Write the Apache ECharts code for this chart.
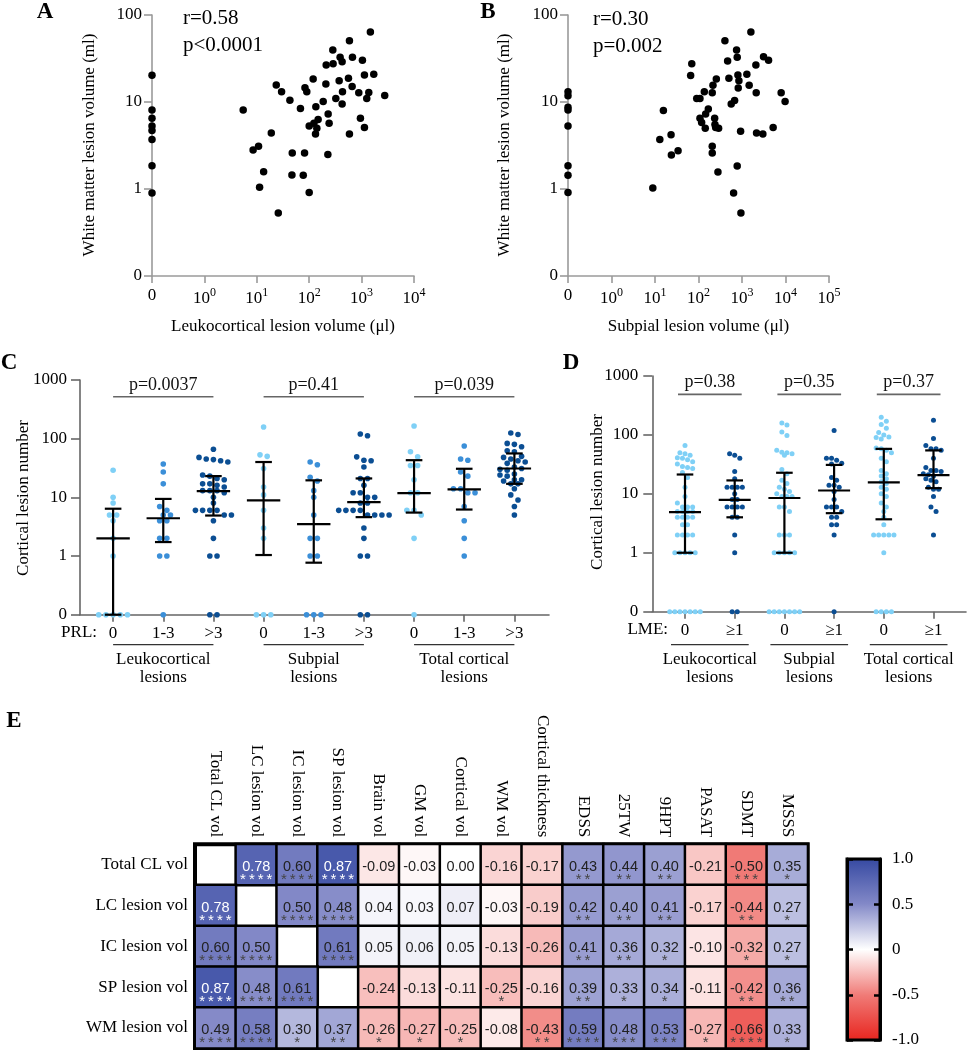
<!DOCTYPE html>
<html><head><meta charset="utf-8">
<script src="https://cdn.jsdelivr.net/npm/echarts@6/dist/echarts.min.js"></script>
<style>html,body{margin:0;padding:0;background:#fff}#c{width:967px;height:1050px}</style>
</head><body><div id="c"></div>
<script>
// ---------------- Panel A: leukocortical vs white matter lesion volume
const aLeukocortical = [0,0,0,0,0,0,0,0, 5.5,8.5,10.8,13.5,11.3,18.9,23.5,29.7,25.7,42.8, 47.5,46.8,68,81.5,77,83,90,100,100,119, 123,134,132,140,148,185,208,211,230,240, 227,282,286,322,373,389,425,432,425,586, 561,586,669,659,883,950,1037,1133,1133,1254, 1371,1472,1706,2762];
const aWhiteMatter  = [20.3,8.1,6.5,5.3,4.7,3.7,1.85,0.9, 8.1,2.8,3.1,1.58,1.05,4.4,15.7,13.1,0.53,10.5, 2.6,1.45,8.4,2.6,1.44,14.6,13.1,0.91,5.3,18.4, 5.7,8.8,4.3,5.0,6.3,10.1,16.1,26.6,7.3,5.7, 2.5,39.6,27.6,11.0,17.6,32.6,29,13.1,9.5,50.7, 18.7,4.3,32.6,15.1,12.8,6.5,30.1,20.4,5.1,11.0, 12.9,63.8,20.8,11.9];
const aStats = ['r=0.58', 'p<0.0001'];
// ---------------- Panel B: subpial vs white matter lesion volume
const bSubpial     = [0,0,0,0,0,0,0,0, 8.9,12.9,15.6,23.4,23.8,33.9,66,70,91,108, 108,118,136,143,146,168,207,207,207,215, 257,235,239,248,290,280,405,467,500,565, 641,676,750,776,776,805,849,819,929,944, 1294,1462,1600,2084,2120,2158,3015,3126,4074,5200, 7940,9790];
const bWhiteMatter = [13.1,11.8,8.7,8.1,5.3,1.85,1.44,0.91, 1.03,3.7,8.0,4.2,2.46,2.76,20.1,27.6,11.0,11.0, 6.5,5.8,13.1,5.0,7.3,8.3,3.1,2.6,12.8,15.6, 18.4,6.5,5.5,5.1,5.0,1.57,50.7,29.6,18.7,9.5, 0.9,10.4,39.6,32.6,1.84,20.4,17.6,14.5,4.6,0.53, 20.8,15.6,63.8,26.6,12.8,4.4,4.3,33.1,30.1,5.1, 12.8,10.1];
const bStats = ['r=0.30', 'p=0.002'];
// ---------------- Panel C: cortical lesion number by PRL group
const cCategories = ['0','1-3','>3','0','1-3','>3','0','1-3','>3'];
const cLC_PRL0  = [29,10,8,5,5,4,2,1,0,0,0,0,0];
const cLC_PRL13 = [37,27,17,7,6,5,5,4,4,2,2,1,1,0];
const cLC_PRL3  = [66,48,45,44,42,40,24,23,21,20,17,17,16,15,13,13,13,12,10,8,6,6,6,6,5,5,4,2,1,1,0,0];
const cSP_PRL0  = [158,53,50,31,15,11,6,3,2,0,0,0];
const cSP_PRL13 = [40,36,22,19,13,10,5,2,2,1,1,0,0,0];
const cSP_PRL3  = [120,112,49,43,42,33,21,21,16,12,12,10,10,8,8,6,6,6,6,5,5,5,5,3,2,1,1,0,0];
const cTot_PRL0  = [164,60,49,35,35,20,12,12,6,6,5,2,0];
const cTot_PRL13 = [75,45,43,27,23,14,14,12,12,7,4,2,1];
const cTot_PRL3  = [125,118,83,80,73,62,60,50,48,45,42,40,38,33,31,30,29,25,24,23,20,20,19,17,17,14,11,9,7,5];
const cMedian = [2, 4.4, 12.8, 8.9, 3.5, 8.3, 11.8, 13.7, 31];
const cLow    = [0, 1.73, 4.9, 1.04, 0.77, 4.6, 5.5, 6.2, 17];
const cHigh   = [6.4, 9.4, 23, 40, 19.5, 21, 43, 30.7, 56];
const cPvalues = ['p=0.0037', 'p=0.41', 'p=0.039'];
const cGroupNames = ['Leukocortical\nlesions', 'Subpial\nlesions', 'Total cortical\nlesions'];
const cGroupSpans = [[0,2],[3,5],[6,8]];
// ---------------- Panel D: cortical lesion number by LME group
const dCategories = ['0','\u22651','0','\u22651','0','\u22651'];
const dLC_0  = [66,50,48,45,41,40,38,35,32,29,28,27,23,19,13,9,7,6,6,6,5,5,5,5,4,4,4,4,3,3,2,2,2,2,1,1,1,1,1,0,0,0,0,0,0,0];
const dLC_1  = [48,45,40,24,18,13,13,13,13,10,8,8,6,6,6,6,4,4,2,1,0,0];
const dSP_0  = [160,148,112,98,55,51,50,48,45,26,22,17,15,13,12,11,10,9,9,9,6,6,5,2,2,2,1,1,1,1,1,0,0,0,0,0,0,0];
const dSP_1  = [119,40,40,37,33,32,19,17,14,14,13,11,8,6,6,6,5,4,4,3,3,2,0];
const dTot_0 = [200,170,150,130,110,100,92,90,85,60,58,55,50,40,35,25,22,20,18,16,15,13,12,10,9,7,6,5,4,3,2,2,2,2,2,1,0,0,0,0];
const dTot_1 = [177,87,66,58,58,55,40,28,25,25,24,22,21,20,18,17,16,13,12,12,9,6,5,2];
const dMedian = [4.9, 7.9, 8.5, 11.4, 15.6, 20.8];
const dLow    = [1, 4.0, 1, 4.7, 3.7, 12.5];
const dHigh   = [21.3, 16.9, 22.8, 31, 58, 54.6];
const dPvalues = ['p=0.38', 'p=0.35', 'p=0.37'];
const dGroupNames = ['Leukocortical\nlesions', 'Subpial\nlesions', 'Total cortical\nlesions'];
const dGroupSpans = [[0,1],[2,3],[4,5]];
// ---------------- Panel E: correlation heatmap
const eRows = ['Total CL vol','LC lesion vol','IC lesion vol','SP lesion vol','WM lesion vol'];
const eCols = ['Total CL vol','LC lesion vol','IC lesion vol','SP lesion vol','Brain vol','GM vol','Cortical vol','WM vol','Cortical thickness','EDSS','25TW','9HPT','PASAT','SDMT','MSSS'];
const eTotalCL = [null,0.78,0.60,0.87,-0.09,-0.03,0.00,-0.16,-0.17,0.43,0.44,0.40,-0.21,-0.50,0.35];
const eLC      = [0.78,null,0.50,0.48,0.04,0.03,0.07,-0.03,-0.19,0.42,0.40,0.41,-0.17,-0.44,0.27];
const eIC      = [0.60,0.50,null,0.61,0.05,0.06,0.05,-0.13,-0.26,0.41,0.36,0.32,-0.10,-0.32,0.27];
const eSP      = [0.87,0.48,0.61,null,-0.24,-0.13,-0.11,-0.25,-0.16,0.39,0.33,0.34,-0.11,-0.42,0.36];
const eWM      = [0.49,0.58,0.30,0.37,-0.26,-0.27,-0.25,-0.08,-0.43,0.59,0.48,0.53,-0.27,-0.66,0.33];
const sTotalCL = ['','****','****','****','','','','','','**','**','**','','***','*'];
const sLC      = ['****','','****','****','','','','','','**','**','**','','**','*'];
const sIC      = ['****','****','','****','','','','','','**','**','*','','*','*'];
const sSP      = ['****','****','****','','','','','*','','**','*','*','','**','**'];
const sWM      = ['****','****','*','**','*','*','*','','**','****','***','***','*','****','*'];
const colorbarTicks = [-1, -0.5, 0, 0.5, 1];

// ---------------- styling
const SERIF = '"Liberation Serif","Times New Roman",serif';
const SANS = '"Liberation Sans",Arial,sans-serif';
const LIGHT = '#7fd0f6', MID = '#3b8fd8', DARK = '#0b4e93';
const heatColors = ['#e8231d', '#f07a76', '#ffffff', '#8288c7', '#3448a1'];
const lg = v => v > 0 ? Math.log10(v) : -1;
const supLabel = v => v === -1 ? '{b|0}' : '{b|10}{s|' + v + '}';
const plainLog = v => v === -1 ? '0' : String(Math.round(Math.pow(10, v)));

const chart = echarts.init(document.getElementById('c'), null, {renderer: 'canvas', width: 967, height: 1050});

const grids = [
  {left: 152, top: 15, width: 262, height: 261},
  {left: 568, top: 15, width: 261, height: 261},
  {left: 80, top: 380, width: 469, height: 234.7},
  {left: 652.3, top: 376, width: 313.7, height: 235.7},
  {left: 195, top: 844.3, width: 612.7, height: 204, show: true, borderColor: '#000', borderWidth: 4, backgroundColor: '#fff'},
  {left: 847, top: 859, width: 33, height: 181}
].map(g => Object.assign({containLabel: false, outerBoundsMode: 'none'}, g));

function line(color, w) { return {show: true, onZero: false, lineStyle: {color: color, width: w}}; }
function tick(color, w, len) { return {show: true, length: len, lineStyle: {color: color, width: w}}; }
const supRich = {b: {fontFamily: SERIF, fontSize: 17, color: '#000'}, s: {fontFamily: SERIF, fontSize: 12, color: '#000', padding: [0, 0, 11, 0]}};
const lblFont = {fontFamily: SERIF, fontSize: 17, color: '#000'};

const xAxes = [
  {gridIndex: 0, type: 'value', min: -1, max: 4, interval: 1, axisLine: line('#9a9a9a', 1.6), axisTick: tick('#9a9a9a', 1.6, 7), splitLine: {show: false}, axisLabel: {margin: 11, formatter: supLabel, rich: supRich}},
  {gridIndex: 1, type: 'value', min: -1, max: 5, interval: 1, axisLine: line('#9a9a9a', 1.6), axisTick: tick('#9a9a9a', 1.6, 7), splitLine: {show: false}, axisLabel: {margin: 11, formatter: supLabel, rich: supRich}},
  {gridIndex: 2, type: 'value', min: -0.66, max: 8.69, axisLine: line('#666', 1.6), axisTick: Object.assign(tick('#666', 1.6, 7), {customValues: cCategories.map((c, i) => i)}), splitLine: {show: false}, axisLabel: Object.assign({margin: 10, customValues: cCategories.map((c, i) => i), formatter: v => cCategories[Math.round(v)]}, lblFont)},
  {gridIndex: 3, type: 'value', min: -0.658, max: 5.654, axisLine: line('#666', 1.6), axisTick: Object.assign(tick('#666', 1.6, 7), {customValues: dCategories.map((c, i) => i)}), splitLine: {show: false}, axisLabel: Object.assign({margin: 10, customValues: dCategories.map((c, i) => i), formatter: v => dCategories[Math.round(v)]}, lblFont)},
  {gridIndex: 4, type: 'category', data: eCols, position: 'top', axisLine: {show: false}, axisTick: {show: false}, splitLine: {show: false}, axisLabel: Object.assign({interval: 0, rotate: 90, margin: 7}, lblFont)},
  {gridIndex: 5, type: 'value', min: 0, max: 1, show: false}
];
const yAxes = [
  {gridIndex: 0, type: 'value', min: -1, max: 2, interval: 1, axisLine: line('#9a9a9a', 1.6), axisTick: tick('#9a9a9a', 1.6, 8), splitLine: {show: false}, axisLabel: Object.assign({margin: 10, formatter: plainLog}, lblFont)},
  {gridIndex: 1, type: 'value', min: -1, max: 2, interval: 1, axisLine: line('#9a9a9a', 1.6), axisTick: tick('#9a9a9a', 1.6, 8), splitLine: {show: false}, axisLabel: Object.assign({margin: 10, formatter: plainLog}, lblFont)},
  {gridIndex: 2, type: 'value', min: -1, max: 3, interval: 1, axisLine: line('#666', 1.6), axisTick: tick('#666', 1.6, 9), splitLine: {show: false}, axisLabel: Object.assign({margin: 13, formatter: plainLog}, lblFont)},
  {gridIndex: 3, type: 'value', min: -1, max: 3, interval: 1, axisLine: line('#666', 1.6), axisTick: tick('#666', 1.6, 9), splitLine: {show: false}, axisLabel: Object.assign({margin: 14, formatter: plainLog}, lblFont)},
  {gridIndex: 4, type: 'category', data: eRows, inverse: true, axisLine: {show: false}, axisTick: {show: false}, splitLine: {show: false}, axisLabel: Object.assign({interval: 0, margin: 7}, lblFont)},
  {gridIndex: 5, type: 'value', min: -1, max: 1, interval: 0.5, position: 'left', z: 10, axisLine: line('#000', 3), axisTick: {show: true, inside: true, length: 6, lineStyle: {color: '#000', width: 2.5}}, axisLabel: {show: false}, splitLine: {show: false}},
  {gridIndex: 5, type: 'value', min: -1, max: 1, interval: 0.5, position: 'right', z: 10, axisLine: line('#000', 3), axisTick: {show: true, inside: true, length: 6, lineStyle: {color: '#000', width: 2.5}}, splitLine: {show: false},
    axisLabel: Object.assign({margin: 12, formatter: v => (v === 0 ? '0' : v.toFixed(1))}, lblFont)}
];

// first pass: axes only, so the swarm layout can use the library's own pixel conversion
chart.setOption({animation: false, grid: grids, xAxis: xAxes, yAxis: yAxes, series: []});

function swarm(values, center, gridIndex, dia, spacing) {
  const toPx = p => chart.convertToPixel({gridIndex: gridIndex}, p);
  const x0 = toPx([center, 0])[0];
  const ppu = toPx([center + 1, 0])[0] - x0;
  const pts = values.map(v => ({ly: lg(v)})).sort((a, b) => b.ly - a.ly);
  pts.forEach(p => { p.py = toPx([center, p.ly])[1]; });
  const rows = [];
  let cur = null;
  pts.forEach(p => {
    if (!cur || p.py - cur.y0 >= dia) { cur = {y0: p.py, pts: []}; rows.push(cur); }
    cur.pts.push(p);
  });
  const placed = [];
  rows.forEach(row => {
    const n = row.pts.length;
    const offs = s => row.pts.map((p, i) => (i - (n - 1) / 2) * spacing + s);
    const ok = s => offs(s).every((x, i) => placed.every(q => Math.hypot(q.px - x, q.py - row.pts[i].py) >= dia * 0.92));
    const cands = [0, spacing / 2, -spacing / 2, spacing, -spacing];
    const s = cands.find(ok);
    const o = offs(s === undefined ? 0 : s);
    row.pts.forEach((p, i) => { p.px = o[i]; placed.push(p); });
  });
  return pts.map(p => [center + p.px / ppu, p.ly]);
}

const cGroups = [cLC_PRL0, cLC_PRL13, cLC_PRL3, cSP_PRL0, cSP_PRL13, cSP_PRL3, cTot_PRL0, cTot_PRL13, cTot_PRL3];
const cColors = [LIGHT, MID, DARK, LIGHT, MID, DARK, LIGHT, MID, DARK];
const dGroups = [dLC_0, dLC_1, dSP_0, dSP_1, dTot_0, dTot_1];
const dColors = [LIGHT, DARK, LIGHT, DARK, LIGHT, DARK];

const series = [];
series.push({type: 'scatter', xAxisIndex: 0, yAxisIndex: 0, symbolSize: 7.5, itemStyle: {color: '#000', opacity: 1}, silent: true,
  data: aLeukocortical.map((x, i) => [lg(x), lg(aWhiteMatter[i])])});
series.push({type: 'scatter', xAxisIndex: 1, yAxisIndex: 1, symbolSize: 7.5, itemStyle: {color: '#000', opacity: 1}, silent: true,
  data: bSubpial.map((x, i) => [lg(x), lg(bWhiteMatter[i])])});

cGroups.forEach((g, i) => series.push({type: 'scatter', xAxisIndex: 2, yAxisIndex: 2, symbolSize: 5.6, silent: true,
  itemStyle: {color: cColors[i], opacity: 1}, data: swarm(g, i, 2, 5.6, 7.2)}));
dGroups.forEach((g, i) => series.push({type: 'scatter', xAxisIndex: 3, yAxisIndex: 3, symbolSize: 5, silent: true,
  itemStyle: {color: dColors[i], opacity: 1}, data: swarm(g, i, 3, 5, 5.1)}));

function errRender(capHalf, medHalf) {
  return function (params, api) {
    const i = api.value(0);
    const m = api.coord([i, api.value(1)]);
    const lo = api.coord([i, api.value(2)]);
    const hi = api.coord([i, api.value(3)]);
    const st = {stroke: '#000', lineWidth: 2.2};
    return {type: 'group', children: [
      {type: 'line', shape: {x1: m[0], y1: lo[1], x2: m[0], y2: hi[1]}, style: st},
      {type: 'line', shape: {x1: m[0] - capHalf, y1: lo[1], x2: m[0] + capHalf, y2: lo[1]}, style: st},
      {type: 'line', shape: {x1: m[0] - capHalf, y1: hi[1], x2: m[0] + capHalf, y2: hi[1]}, style: st},
      {type: 'line', shape: {x1: m[0] - medHalf, y1: m[1], x2: m[0] + medHalf, y2: m[1]}, style: st}
    ]};
  };
}
series.push({type: 'custom', xAxisIndex: 2, yAxisIndex: 2, z: 5, silent: true, renderItem: errRender(8.3, 16.7),
  data: cMedian.map((m, i) => [i, lg(m), lg(cLow[i]), lg(cHigh[i])])});
series.push({type: 'custom', xAxisIndex: 3, yAxisIndex: 3, z: 5, silent: true, renderItem: errRender(8.3, 16),
  data: dMedian.map((m, i) => [i, lg(m), lg(dLow[i]), lg(dHigh[i])])});

function bracketRender(texts, level, ext) {
  return function (params, api) {
    const a = api.coord([api.value(0), level]), b = api.coord([api.value(1), level]);
    return {type: 'group', children: [
      {type: 'line', shape: {x1: a[0] - ext, y1: a[1], x2: b[0] + ext, y2: a[1]}, style: {stroke: '#666', lineWidth: 1.6}},
      {type: 'text', x: (a[0] + b[0]) / 2, y: a[1] - 12, style: {text: texts[params.dataIndex], fill: '#111', font: '18px ' + SERIF,
        align: 'center', verticalAlign: 'middle', textAlign: 'center', textVerticalAlign: 'middle'}}
    ]};
  };
}
series.push({type: 'custom', xAxisIndex: 2, yAxisIndex: 2, silent: true, clip: false, renderItem: bracketRender(cPvalues, 2.714, 0), data: cGroupSpans});
series.push({type: 'custom', xAxisIndex: 3, yAxisIndex: 3, silent: true, clip: false, renderItem: bracketRender(dPvalues, 2.688, 7), data: dGroupSpans});

function groupRender(names, lineDy, textDy, ext) {
  return function (params, api) {
    const a = api.coord([api.value(0), -1]), b = api.coord([api.value(1), -1]);
    return {type: 'group', children: [
      {type: 'line', shape: {x1: a[0] - ext, y1: a[1] + lineDy, x2: b[0] + ext, y2: a[1] + lineDy}, style: {stroke: '#333', lineWidth: 1.3}},
      {type: 'text', x: (a[0] + b[0]) / 2, y: a[1] + textDy, style: {text: names[params.dataIndex], fill: '#000', font: '17px ' + SERIF,
        lineHeight: 18, align: 'center', verticalAlign: 'top', textAlign: 'center', textVerticalAlign: 'top'}}
    ]};
  };
}
series.push({type: 'custom', xAxisIndex: 2, yAxisIndex: 2, silent: true, clip: false, renderItem: groupRender(cGroupNames, 30, 36, 0), data: cGroupSpans});
series.push({type: 'custom', xAxisIndex: 3, yAxisIndex: 3, silent: true, clip: false, renderItem: groupRender(dGroupNames, 33, 39, 14), data: dGroupSpans});

// heatmap
const eValues = [eTotalCL, eLC, eIC, eSP, eWM];
const eStars = [sTotalCL, sLC, sIC, sSP, sWM];
const heatData = [];
eValues.forEach((row, r) => row.forEach((v, c) => heatData.push({value: [c, r, v === null ? '-' : v], stars: eStars[r][c]})));
const heatIndex = series.length;
series.push({type: 'heatmap', xAxisIndex: 4, yAxisIndex: 4, silent: true, data: heatData,
  itemStyle: {borderColor: '#000', borderWidth: 2.5},
  label: {show: true, offset: [0, 7], formatter: p => {
    const v = p.data.value[2];
    if (v === '-') return '';
    const w = Math.abs(v) > 0.7;
    const st = p.data.stars ? p.data.stars.split('').join('\u2009') : '\u00a0';
    return '{' + (w ? 'vw' : 'v') + '|' + v.toFixed(2) + '}\n{' + (w ? 'sw' : 's') + '|' + st + '}';
  }, rich: {
    v: {fontFamily: SANS, fontSize: 14.5, lineHeight: 16, color: '#222'},
    vw: {fontFamily: SANS, fontSize: 14.5, lineHeight: 16, color: '#fff'},
    s: {fontFamily: SANS, fontSize: 15, lineHeight: 10, color: '#444'},
    sw: {fontFamily: SANS, fontSize: 15, lineHeight: 10, color: '#fff'}
  }}});

// colour bar drawn from the same colour scale
series.push({type: 'custom', xAxisIndex: 5, yAxisIndex: 5, silent: true, z: 1, data: [[0, colorbarTicks[0]]],
  renderItem: (params, api) => {
    const tl = api.coord([0, colorbarTicks[colorbarTicks.length - 1]]), br = api.coord([1, colorbarTicks[0]]);
    const stops = heatColors.slice().reverse().map((c, i, arr) => ({offset: i / (arr.length - 1), color: c}));
    return {type: 'rect', shape: {x: tl[0], y: tl[1], width: br[0] - tl[0], height: br[1] - tl[1]},
      style: {fill: new echarts.graphic.LinearGradient(0, 0, 0, 1, stops), stroke: '#000', lineWidth: 3}};
  }});

function T(text, x, y, o) {
  o = o || {};
  const align = o.align || 'center', va = o.va || 'middle';
  return {type: 'text', x: x, y: y, rotation: o.rot || 0, silent: true,
    style: {text: text, fill: '#000', font: (o.weight || 'normal') + ' ' + (o.size || 17) + 'px ' + SERIF,
      align: align, verticalAlign: va, textAlign: align, textVerticalAlign: va}};
}
const graphics = [
  T('A', 45, 12, {weight: 'bold', size: 23}),
  T('B', 488, 12, {weight: 'bold', size: 23}),
  T('C', 9, 363, {weight: 'bold', size: 23}),
  T('D', 571, 363, {weight: 'bold', size: 23}),
  T('E', 14, 721, {weight: 'bold', size: 23}),
  T(aStats[0], 183, 18, {align: 'left', size: 21}),
  T(aStats[1], 183, 45, {align: 'left', size: 21}),
  T(bStats[0], 593, 19, {align: 'left', size: 21}),
  T(bStats[1], 593, 46, {align: 'left', size: 21}),
  T('Leukocortical lesion volume (\u03bcl)', 283, 327),
  T('Subpial lesion volume (\u03bcl)', 698.5, 327),
  T('White matter lesion volume (ml)', 90, 145, {rot: Math.PI / 2}),
  T('White matter lesion volume (ml)', 505, 145, {rot: Math.PI / 2}),
  T('Cortical lesion number', 24, 498, {rot: Math.PI / 2}),
  T('Cortical lesion number', 598, 492, {rot: Math.PI / 2}),
  T('PRL:', 97, 633, {align: 'right'}),
  T('LME:', 668, 630, {align: 'right'})
];

chart.setOption({
  animation: false,
  textStyle: {fontFamily: SERIF},
  grid: grids, xAxis: xAxes, yAxis: yAxes,
  visualMap: {type: 'continuous', show: false, min: -1, max: 1, dimension: 2, seriesIndex: heatIndex, inRange: {color: heatColors}},
  series: series,
  graphic: graphics
}, true);
</script></body></html>
